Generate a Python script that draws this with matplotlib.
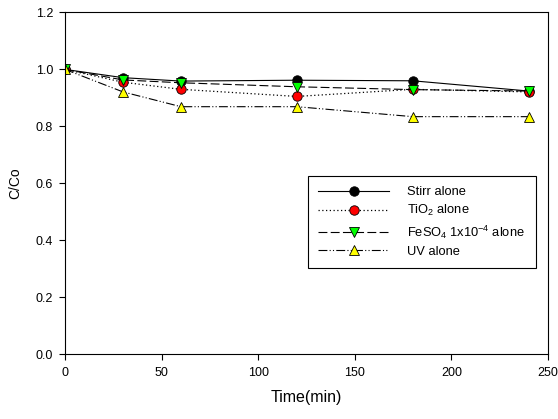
import matplotlib
matplotlib.use("Agg")
import matplotlib.pyplot as plt

plt.rcParams['font.family'] = ['Liberation Sans', 'DejaVu Sans']
plt.rcParams['mathtext.fontset'] = 'custom'
plt.rcParams['mathtext.rm'] = 'Liberation Sans'
plt.rcParams['mathtext.it'] = 'Liberation Sans:italic'
plt.rcParams['mathtext.default'] = 'regular'

time = [0, 30, 60, 120, 180, 240]
stirr = [1.0, 0.971, 0.959, 0.962, 0.960, 0.924]
tio2 = [1.0, 0.955, 0.930, 0.905, 0.930, 0.921]
feso4 = [1.0, 0.963, 0.953, 0.939, 0.929, 0.924]
uv = [1.0, 0.921, 0.869, 0.869, 0.834, 0.834]

labels = ['Stirr alone', 'TiO$_2$ alone', 'FeSO$_4$ 1x10$^{-4}$ alone', 'UV alone']
xticks = [0, 50, 100, 150, 200, 250]
yticks = [0.0, 0.2, 0.4, 0.6, 0.8, 1.0, 1.2]

fig = plt.figure(figsize=(5.58, 4.19), dpi=100)
ax = fig.add_axes([0.1165, 0.1551, 0.8656, 0.8151])

ms = 6.8
ax.plot(time, stirr, '-', color='black', lw=0.8, marker='o', ms=ms,
        mfc='black', mec='black', mew=0.6, label=labels[0])
ax.plot(time, tio2, linestyle=(0, (1, 2)), color='black', lw=0.9, marker='o', ms=ms,
        mfc='red', mec='black', mew=0.6, label=labels[1])
ax.plot(time, feso4, linestyle=(0, (8, 3)), color='black', lw=0.8, marker='v', ms=ms,
        mfc='#00ff00', mec='black', mew=0.6, label=labels[2])
ax.plot(time, uv, linestyle=(0, (8, 2, 1, 2, 1, 2)), color='black', lw=0.8, marker='^', ms=ms,
        mfc='yellow', mec='black', mew=0.6, label=labels[3])

ax.set_xlim(0, 250)
ax.set_ylim(0, 1.2)
ax.set_xticks(xticks)
ax.set_yticks(yticks)
ax.set_yticklabels([f'{v:.1f}' for v in yticks])
ax.tick_params(direction='out', length=4.5, width=0.8, labelsize=9, top=False, right=False)
ax.tick_params(axis='x', pad=5)
ax.tick_params(axis='y', pad=4)
for s in ax.spines.values():
    s.set_linewidth(0.8)

ax.set_xlabel('Time(min)', fontsize=11.5, labelpad=8)
ax.set_ylabel('C/Co', fontsize=10, labelpad=10)

leg = ax.legend(loc='upper left', bbox_to_anchor=(0.503, 0.521), borderaxespad=0,
                fontsize=9.3, handlelength=5.5, frameon=True, fancybox=False,
                edgecolor='black', framealpha=1, borderpad=0.8, labelspacing=0.38,
                handletextpad=1.4)
leg.get_frame().set_linewidth(0.8)

fig.savefig('out.png', dpi=100)
